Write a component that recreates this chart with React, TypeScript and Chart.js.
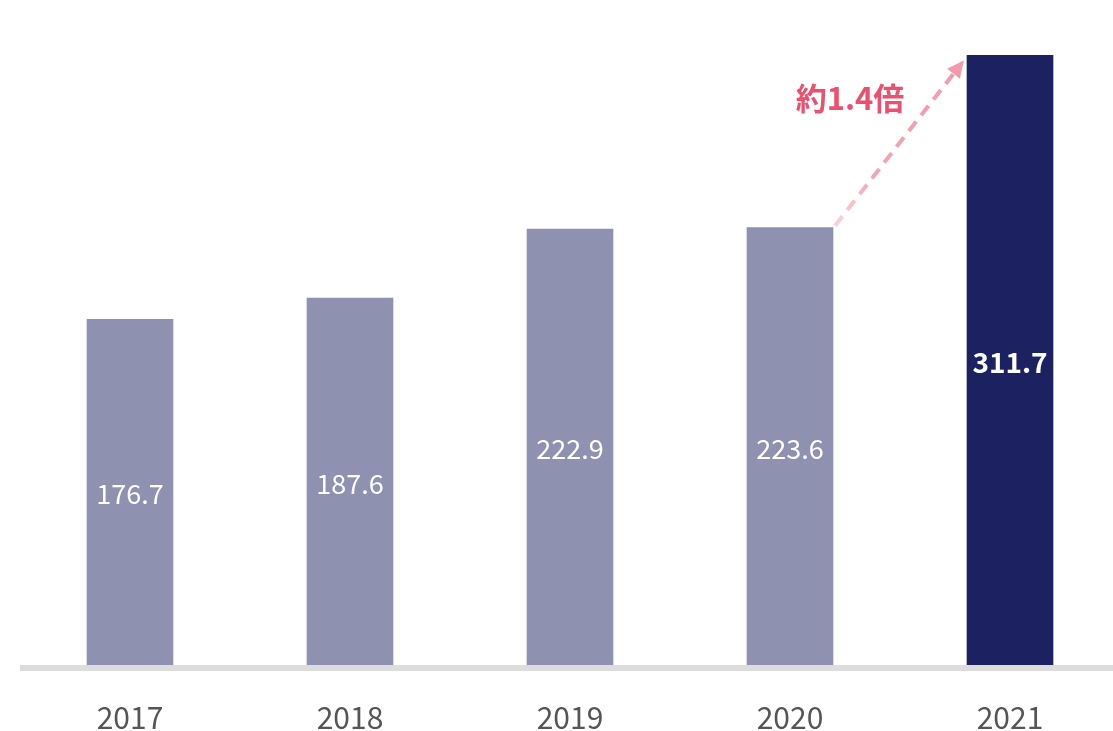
import React, { useEffect, useRef } from "react";
import { Chart, registerables } from "chart.js";

Chart.register(...registerables);

const years = ["2017", "2018", "2019", "2020", "2021"];
const values = [176.7, 187.6, 222.9, 223.6, 311.7];
const barColors = ["#8e91b0", "#8e91b0", "#8e91b0", "#8e91b0", "#1b2161"];
const growthLabel = "約1.4倍";

const FONT = '"Noto Sans CJK JP", "Noto Sans", sans-serif';

const overlayPlugin = {
  id: "overlay",
  beforeDatasetsDraw(chart: any) {
    const ctx = chart.ctx;
    const area = chart.chartArea;
    ctx.save();
    ctx.fillStyle = "#dcdcdc";
    ctx.fillRect(20, area.bottom, chart.width - 20, 6);
    ctx.restore();
  },
  afterDatasetsDraw(chart: any) {
    const ctx = chart.ctx;
    const meta = chart.getDatasetMeta(0);
    ctx.save();
    ctx.textAlign = "center";
    ctx.textBaseline = "middle";
    ctx.fillStyle = "#ffffff";
    meta.data.forEach((bar: any, i: number) => {
      const last = i === meta.data.length - 1;
      ctx.font = last ? `bold 28px ${FONT}` : `27px ${FONT}`;
      ctx.fillText(String(values[i]), bar.x, (bar.y + bar.base) / 2 + 2);
    });

    // arrow from 2020 bar to 2021 bar
    const a = meta.data[3];
    const b = meta.data[4];
    const x0 = a.x + a.width / 2 + 2;
    const y0 = a.y - 2;
    const x1 = b.x - b.width / 2 - 3;
    const y1 = b.y + 5;
    const ang = Math.atan2(y1 - y0, x1 - x0);
    const headLen = 17;
    const lx = x1 - Math.cos(ang) * headLen;
    const ly = y1 - Math.sin(ang) * headLen;
    const grad = ctx.createLinearGradient(x0, y0, x1, y1);
    grad.addColorStop(0, "#fbd3db");
    grad.addColorStop(0.3, "#f5a3b3");
    grad.addColorStop(1, "#f29aab");
    ctx.strokeStyle = grad;
    ctx.lineWidth = 4;
    ctx.setLineDash([12, 8]);
    ctx.beginPath();
    ctx.moveTo(x0, y0);
    ctx.lineTo(lx, ly);
    ctx.stroke();
    ctx.setLineDash([]);
    ctx.fillStyle = "#f29aab";
    ctx.beginPath();
    ctx.moveTo(x1, y1);
    ctx.lineTo(lx + Math.cos(ang + Math.PI / 2) * 8, ly + Math.sin(ang + Math.PI / 2) * 8);
    ctx.lineTo(lx + Math.cos(ang - Math.PI / 2) * 8, ly + Math.sin(ang - Math.PI / 2) * 8);
    ctx.closePath();
    ctx.fill();

    ctx.font = `bold 31px ${FONT}`;
    ctx.fillStyle = "#e9516e";
    ctx.textAlign = "center";
    ctx.textBaseline = "middle";
    ctx.fillText(growthLabel, a.x + 60, b.y + 43);
    ctx.restore();
  },
};

export default function App() {
  const canvasRef = useRef<HTMLCanvasElement | null>(null);

  useEffect(() => {
    document.body.style.margin = "0";
    document.body.style.overflow = "hidden";
    const chart = new Chart(canvasRef.current as HTMLCanvasElement, {
      type: "bar",
      data: {
        labels: years,
        datasets: [
          {
            data: values,
            backgroundColor: barColors,
            barThickness: 86,
            borderWidth: 0,
          },
        ],
      },
      options: {
        animation: false,
        responsive: true,
        maintainAspectRatio: false,
        layout: { padding: { left: 20, right: 0, top: 0, bottom: 0 } },
        plugins: {
          legend: { display: false },
          tooltip: { enabled: false },
        },
        scales: {
          x: {
            grid: { display: false, drawTicks: false },
            border: { display: false },
            ticks: {
              color: "#555555",
              font: { family: FONT, size: 30 },
              padding: 35,
            },
          },
          y: {
            display: false,
            min: 0,
            max: 340,
          },
        },
      },
      plugins: [overlayPlugin],
    });
    return () => chart.destroy();
  }, []);

  return (
    <div style={{ position: "fixed", left: 0, top: 0, width: 1113, height: 731, overflow: "hidden", background: "#fff" }}>
      <div style={{ position: "absolute", left: 0, top: 0, width: 1120, height: 771 }}>
        <canvas ref={canvasRef} />
      </div>
    </div>
  );
}
